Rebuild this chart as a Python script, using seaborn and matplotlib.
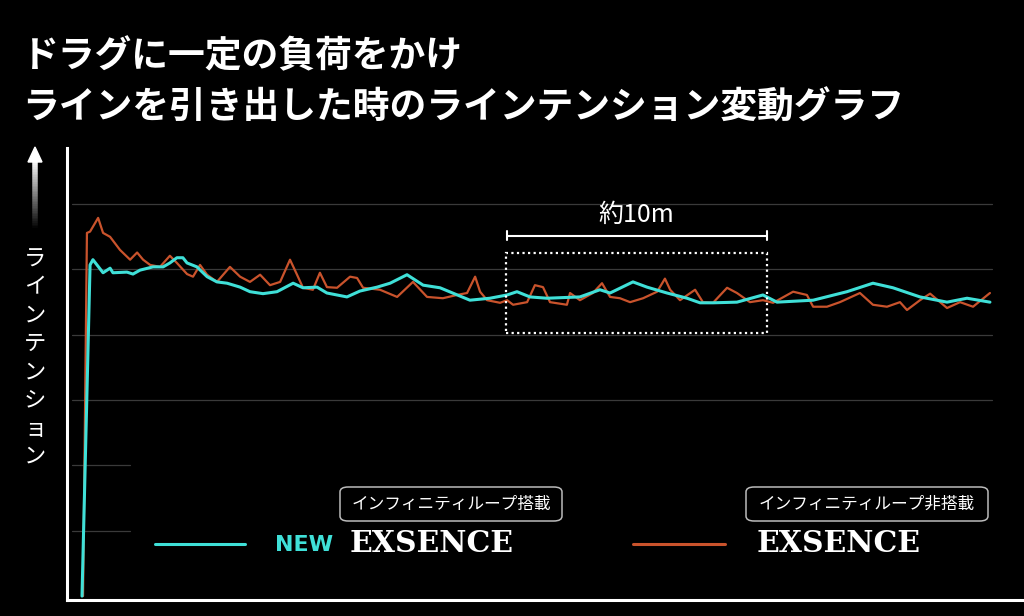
import numpy as np
import pandas as pd
import matplotlib
matplotlib.use('Agg')
import matplotlib.pyplot as plt
from matplotlib.patches import FancyBboxPatch, Rectangle, Polygon
import seaborn as sns

# distance (m) and line tension (arbitrary units)
new_x = [0, 0.31, 0.42, 0.81, 1.08, 1.19, 1.73, 1.96, 2.23, 2.73, 3.12, 3.38, 3.65, 3.88, 4.04,
         4.42, 4.81, 5.19, 5.58, 6.08, 6.46, 6.96, 7.5, 8.12, 8.5, 9.04, 9.42, 10.19, 10.69,
         11.35, 11.85, 12.5, 13.12, 13.77, 14.92, 15.69, 16.35, 16.73, 17.23, 17.88, 19.15,
         19.92, 20.31, 21.19, 21.73, 22.5, 23.27, 23.77, 24.27, 25.19, 26.19, 26.73, 28.12,
         29.42, 30.42, 31.19, 32.23, 33.27, 34.04, 34.92]
new_y = [0, 5.07, 5.15, 4.95, 5.02, 4.95, 4.96, 4.93, 4.99, 5.04, 5.04, 5.10, 5.18, 5.18, 5.10,
         5.04, 4.89, 4.81, 4.79, 4.73, 4.66, 4.63, 4.66, 4.79, 4.72, 4.73, 4.64, 4.58, 4.67,
         4.73, 4.79, 4.92, 4.76, 4.72, 4.53, 4.56, 4.61, 4.66, 4.58, 4.56, 4.58,
         4.69, 4.64, 4.81, 4.73, 4.64, 4.56, 4.49, 4.49, 4.50, 4.61, 4.50, 4.53,
         4.66, 4.79, 4.72, 4.58, 4.50, 4.56, 4.50]

old_x = [0.04, 0.19, 0.31, 0.62, 0.81, 1.08, 1.46, 1.85, 2.12, 2.35, 2.62, 3.0, 3.38, 3.65,
         4.04, 4.27, 4.54, 4.81, 5.19, 5.69, 6.08, 6.46, 6.85, 7.23, 7.62, 8.0, 8.27, 8.5,
         8.88, 9.15, 9.42, 9.81, 10.31, 10.58, 10.81, 11.46, 12.12, 12.73, 13.27, 13.88,
         14.42, 14.81, 15.12, 15.31, 15.58, 16.08, 16.35, 16.58, 17.12, 17.42, 17.73, 18.0,
         18.65, 18.77, 19.15, 19.65, 20.0, 20.31, 20.69, 21.08, 21.58, 22.12, 22.42, 22.62,
         23.0, 23.58, 23.88, 24.27, 24.81, 25.19, 25.69, 26.19, 26.58, 27.35, 27.88, 28.12,
         28.65, 29.15, 29.92, 30.42, 30.96, 31.46, 31.73, 32.23, 32.62, 33.27, 33.77, 34.27,
         34.92]
old_y = [0, 5.56, 5.58, 5.79, 5.56, 5.50, 5.30, 5.15, 5.26, 5.15, 5.07, 5.04, 5.21, 5.10,
         4.93, 4.89, 5.07, 4.92, 4.81, 5.04, 4.89, 4.81, 4.92, 4.76, 4.81, 5.15, 4.92, 4.72,
         4.69, 4.95, 4.73, 4.72, 4.89, 4.87, 4.72, 4.69, 4.58, 4.81, 4.58, 4.56,
         4.61, 4.64, 4.89, 4.66, 4.53, 4.49, 4.53, 4.46, 4.50, 4.76, 4.73, 4.50,
         4.46, 4.64, 4.53, 4.64, 4.79, 4.58, 4.56, 4.50, 4.56, 4.66, 4.86, 4.69,
         4.53, 4.69, 4.50, 4.49, 4.72, 4.64, 4.50, 4.53, 4.49, 4.66, 4.61, 4.43,
         4.43, 4.50, 4.64, 4.46, 4.43, 4.50, 4.38, 4.53, 4.63, 4.41, 4.50, 4.43,
         4.64]

span_start, span_end = 16.3, 26.35   # the "about 10 m" section
title_lines = ['ドラグに一定の負荷をかけ', 'ラインを引き出した時のラインテンション変動グラフ']
ylabel = 'ラインテンション'
series_names = ['NEW', 'EXSENCE']
tags = ['インフィニティループ搭載', 'インフィニティループ非搭載']

cyan = '#3fe0d8'
orange = '#c9532c'

new = pd.DataFrame({'x': new_x, 'y': new_y})
old = pd.DataFrame({'x': old_x, 'y': old_y})

sns.set_theme(style='dark')
plt.rcParams['font.family'] = ['Noto Sans CJK JP', 'DejaVu Sans']

fig = plt.figure(figsize=(10.24, 6.16), dpi=100, facecolor='black')
W, H = 1024, 616
ax = fig.add_axes([67 / W, 16 / H, (W - 67) / W, (600 - 148) / H])
ax.set_facecolor('black')

ax.set_xlim(-0.577, 36.23)
ax.set_ylim(-0.06, 6.86)

# grid lines (the lower two are short)
grid_end = (992 - 67) / (W - 67)
for g in [3, 4, 5, 6]:
    ax.axhline(g, xmin=0.005, xmax=grid_end, color='#3a3a3a', lw=0.9, zorder=1)
for g in [1, 2]:
    ax.axhline(g, xmin=0.005, xmax=(130 - 67) / (W - 67), color='#3a3a3a', lw=0.9, zorder=1)

sns.lineplot(data=old, x='x', y='y', ax=ax, color=orange, lw=1.6, estimator=None, sort=False, zorder=3)
sns.lineplot(data=new, x='x', y='y', ax=ax, color=cyan, lw=2.2, estimator=None, sort=False, zorder=4)

ax.set_xticks([])
ax.set_yticks([])
ax.set_xlabel('')
ax.set_ylabel('')
for s in ['top', 'right']:
    ax.spines[s].set_visible(False)
for s in ['left', 'bottom']:
    ax.spines[s].set_color('white')
    ax.spines[s].set_linewidth(2.2)

# 10 m bracket and dotted box
ax.add_patch(Rectangle((span_start, 4.03), span_end - span_start, 1.22, fill=False,
                       ec='white', lw=1.6, ls=(0, (1, 1.5)), zorder=5))
ax.plot([span_start + 0.03, span_end], [5.52, 5.52], color='white', lw=1.5, zorder=5)
ax.plot([span_start + 0.03] * 2, [5.45, 5.59], color='white', lw=1.5, zorder=5)
ax.plot([span_end] * 2, [5.45, 5.59], color='white', lw=1.5, zorder=5)
ax.text((span_start + span_end) / 2, 5.84, '約10m', color='white', fontsize=18,
        ha='center', va='center')

# title
fig.text(22 / W, 1 - 57 / H, title_lines[0], color='white', fontsize=26.5, fontweight='bold',
         ha='left', va='center')
fig.text(22 / W, 1 - 108 / H, title_lines[1], color='white', fontsize=26.5, fontweight='bold',
         ha='left', va='center')

# y label: arrow with fading shaft, then upright stacked characters
n = 40
for i in range(n):
    y0 = 160 + i * (228 - 160) / n
    y1 = 160 + (i + 1) * (228 - 160) / n
    a = 1 - i / n
    fig.add_artist(plt.Line2D([35 / W, 35 / W], [1 - y0 / H, 1 - y1 / H], color='white',
                              alpha=a, lw=4, solid_capstyle='butt'))
fig.add_artist(Polygon([[28 / W, 1 - 162 / H], [42 / W, 1 - 162 / H], [35 / W, 1 - 147 / H]],
                       closed=True, color='white', transform=fig.transFigure))
for i, ch in enumerate(ylabel):
    fig.text(35 / W, 1 - (259 + i * 28.2) / H, ch, color='white', fontsize=16,
             ha='center', va='center')

# legend
fig.add_artist(plt.Line2D([155 / W, 245 / W], [1 - 544 / H] * 2, color=cyan, lw=2.2))
fig.add_artist(plt.Line2D([633 / W, 725 / W], [1 - 544 / H] * 2, color=orange, lw=2.2))
fig.text(275 / W, 1 - 545 / H, series_names[0], color=cyan, fontsize=16, fontweight='bold',
         family='DejaVu Sans', ha='left', va='center')
fig.text(350 / W, 1 - 544 / H, series_names[1], color='white', fontsize=21.5, fontweight='bold',
         family='DejaVu Serif', ha='left', va='center')
fig.text(757 / W, 1 - 544 / H, series_names[1], color='white', fontsize=21.5, fontweight='bold',
         family='DejaVu Serif', ha='left', va='center')

for (x0, x1), tag in zip([(340, 562), (746, 988)], tags):
    fig.add_artist(FancyBboxPatch((x0 / W, 1 - 521 / H), (x1 - x0) / W, 34 / H,
                                  boxstyle='round,pad=0,rounding_size=0.008',
                                  transform=fig.transFigure, fc='none', ec='#bbbbbb', lw=1.1))
    fig.text((x0 + x1) / 2 / W, 1 - 504 / H, tag, color='white', fontsize=12,
             ha='center', va='center')

fig.savefig('out.png', dpi=100, facecolor='black')
